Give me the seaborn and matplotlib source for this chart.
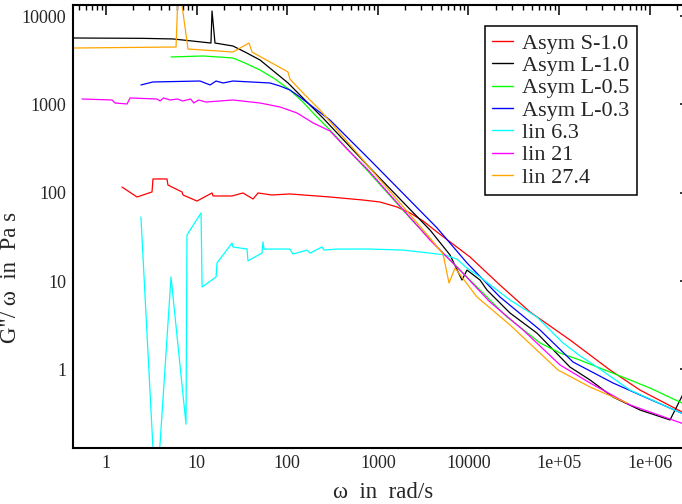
import numpy as np
import pandas as pd
import seaborn as sns
import matplotlib
matplotlib.use("Agg")
import matplotlib.pyplot as plt
from matplotlib.ticker import LogLocator, FixedLocator, FixedFormatter, NullFormatter

# --- loss compliance data: omega (rad/s) and G''/omega (Pa s) ---
asym_s10_w = [1.50, 2.20, 3.22, 3.30, 4.71, 4.83, 6.90, 7.08, 10.1, 14.8, 15.2, 24.6, 32.5, 42.0,
              47.6, 67.9, 107, 297, 687, 1057, 1629, 2266, 3155, 4500, 10420, 22300, 47860,
              132200, 365600, 783000, 2.4e6]
asym_s10_g = [116, 89.4, 102, 143, 143, 122, 102, 94.2, 80.5, 99.3, 91.8, 91.8, 99.3, 84.9,
              99.3, 94.2, 96.8, 89.4, 82.6, 78.5, 68.9, 59.0, 47.9, 35.9, 18.7, 9.0, 4.46,
              2.15, 0.982, 0.582, 0.32]

asym_l10_w = [0.43, 2.5, 5.49, 14.4, 14.8, 15.96, 25.2, 34.2, 50.1, 102, 157, 248, 820, 3770,
              6270, 8490, 9650, 13430, 16040, 28770, 57100, 132200, 220000, 394500, 783000,
              1.68e6, 2.4e6]
asym_l10_g = [5650, 5600, 5510, 4955, 11430, 4955, 4585, 3920, 3185, 1750, 1122, 702, 190.5,
              37.8, 19.7, 10.26, 13.3, 10.26, 7.9, 4.34, 2.57, 1.06, 0.757, 0.485, 0.346,
              0.267, 0.55]

asym_l05_w = [5.22, 11.8, 25.2, 34.2, 50.1, 73.3, 107, 149, 203, 297, 760, 2266, 5250, 11830,
              26680, 37100, 61700, 102600, 170600, 608000, 1.01e6, 2.4e6]
asym_l05_g = [3445, 3535, 3355, 2945, 2455, 1940, 1458, 1064, 757, 512, 180, 51.7, 20.7, 9.0,
              3.91, 3.01, 1.99, 1.53, 1.27, 0.757, 0.614, 0.405]

asym_l03_w = [2.43, 3.30, 10.9, 14.1, 16.4, 19.6, 25.2, 64.6, 83.3, 107, 138, 213, 297, 820,
              4500, 9650, 22300, 61700, 142800, 394500, 935000, 2.4e6]
asym_l03_g = [1660, 1795, 1840, 1660, 1840, 1748, 1840, 1748, 1615, 1458, 1213, 863, 664, 235,
              40.0, 16.0, 6.59, 2.79, 1.21, 0.700, 0.473, 0.31]

lin63_w = [2.43, 3.56, 5.22, 7.64, 7.83, 11.2, 11.5, 16.4, 16.8, 24.6, 25.2, 36.0, 36.9, 52.7,
           54.1, 55.5, 77.1, 107, 116, 166, 179, 242, 255, 355, 820, 1897, 3770, 5520, 7480,
           9650, 13430, 18700, 28770, 57100, 110700, 170600, 262600, 608000, 1.41e6, 2.4e6]
lin63_g = [53.1, 0.0283, 11.1, 0.239, 33.2, 59.0, 8.55, 11.1, 16.0, 26.9, 24.3, 23.0, 16.9,
           20.7, 27.7, 23.0, 23.0, 23.0, 20.2, 22.4, 20.7, 24.3, 22.4, 23.0, 23.0, 22.4, 20.7,
           19.7, 17.7, 14.0, 11.1, 8.55, 6.09, 3.91, 1.99, 1.42, 1.06, 0.582, 0.395, 0.31]

lin21_w = [0.543, 1.165, 1.26, 1.71, 1.84, 3.66, 3.95, 4.3, 5.1, 6.2, 7.0, 8.6, 9.3, 10.5,
           12.7, 25.2, 50.1, 83.3, 128, 193, 297, 469, 780, 3770, 8070, 17300, 40080, 102600,
           220000, 608000, 2.4e6]
lin21_g = [1151, 1122, 1037, 1011, 1183, 1151, 1093, 1183, 1122, 1151, 1093, 1151, 1037,
           1122, 1064, 1122, 1037, 935, 800, 617, 500, 304, 181, 29.1, 13.3, 5.78, 2.79, 1.12,
           0.700, 0.395, 0.24]

lin274_w = [0.43, 5.93, 6.31, 8.04, 25.2, 37.9, 40.9, 64.6, 102, 107, 157, 230, 820, 3770,
            5250, 6110, 7120, 12450, 28770, 97500, 220000, 563000]
lin274_g = [4350, 4467, 25650, 4240, 3920, 4955, 3920, 3020, 2330, 1940, 1277, 865, 190, 30.7,
            20.2, 9.49, 14.0, 6.59, 3.18, 0.982, 0.630, 0.416]

series = [
    ("Asym S-1.0", asym_s10_w, asym_s10_g, "#ff0000"),
    ("Asym L-1.0", asym_l10_w, asym_l10_g, "#000000"),
    ("Asym L-0.5", asym_l05_w, asym_l05_g, "#00ff00"),
    ("Asym L-0.3", asym_l03_w, asym_l03_g, "#0000ff"),
    ("lin 6.3", lin63_w, lin63_g, "#00ffff"),
    ("lin 21", lin21_w, lin21_g, "#ff00ff"),
    ("lin 27.4", lin274_w, lin274_g, "#ffa500"),
]

frames = [pd.DataFrame({"omega": w, "g": g, "sample": name}) for name, w, g, _ in series]
df = pd.concat(frames, ignore_index=True)
names = [s[0] for s in series]
palette = {s[0]: s[3] for s in series}

sns.set_theme(style="white")
plt.rcParams["font.family"] = ["Liberation Serif", "DejaVu Serif"]

fig = plt.figure(figsize=(6.82, 5.04), dpi=100)
W, H = 682, 504
left, right, top, bottom = 73, 690, 5, 448.3
ax = fig.add_axes([left / W, 1 - bottom / H, (right - left) / W, (bottom - top) / H])

sns.lineplot(data=df, x="omega", y="g", hue="sample", hue_order=names, palette=palette,
             sort=False, estimator=None, linewidth=0.9, ax=ax)

ax.set_xscale("log")
ax.set_yscale("log")
ax.set_xlim(10 ** ((left - 106) / 90.6), 10 ** ((right - 106) / 90.6))
ax.set_ylim(10 ** ((369.3 - bottom) / 88.3), 10 ** ((369.3 - top) / 88.3))

xt = [1, 10, 100, 1000, 10000, 1e5, 1e6]
ax.xaxis.set_major_locator(FixedLocator(xt))
ax.xaxis.set_major_formatter(FixedFormatter(["1", "10", "100", "1000", "10000", "1e+05", "1e+06"]))
yt = [1, 10, 100, 1000, 10000]
ax.yaxis.set_major_locator(FixedLocator(yt))
ax.yaxis.set_major_formatter(FixedFormatter(["1", "10", "100", "1000", "10000"]))
for axis in (ax.xaxis, ax.yaxis):
    axis.set_minor_locator(LogLocator(base=10, subs=np.arange(2, 10), numticks=20))
    axis.set_minor_formatter(NullFormatter())

ax.tick_params(which="both", direction="in", top=True, right=True, color="black")
ax.tick_params(which="major", length=7.5, width=1.1, labelsize=13, pad=5)
ax.tick_params(which="minor", length=3.8, width=1.0)
for sp in ax.spines.values():
    sp.set_linewidth(1.5)
    sp.set_color("black")

ax.set_xlabel("ω  in  rad/s", fontsize=16.5)
ax.set_ylabel("G\"/ ω  in  Pa s", fontsize=16.5)
ax.xaxis.set_label_coords((383 - left) / (right - left), -(482 - bottom) / (bottom - top))
ax.yaxis.set_label_coords(-(73 - 21.5) / (right - left), (bottom - 277) / (bottom - top))

handles, labels = ax.get_legend_handles_labels()
leg = ax.legend(handles, labels, loc="upper left", bbox_to_anchor=(485 / W, 1 - 26 / H),
                bbox_transform=fig.transFigure, borderaxespad=0, fontsize=16,
                frameon=True, fancybox=False, edgecolor="black", facecolor="white",
                framealpha=1, handlelength=0.95, handletextpad=0.4, labelspacing=0.08,
                borderpad=0.32)
leg.get_frame().set_linewidth(1.1)
for ln in leg.get_lines():
    ln.set_linewidth(1.0)

fig.savefig("out.png", dpi=100)
